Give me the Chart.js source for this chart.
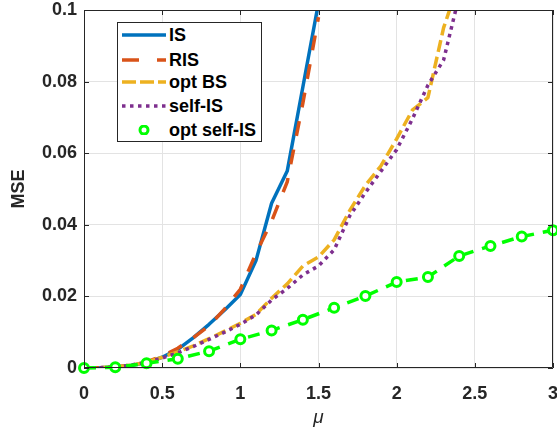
<!DOCTYPE html>
<html>
<head>
<meta charset="utf-8">
<script src="https://cdn.jsdelivr.net/npm/chart.js@4.4.1/dist/chart.umd.min.js"></script>
<style>
  html, body { margin: 0; padding: 0; background: #ffffff; }
  #wrap { position: relative; width: 557px; height: 429px; }
  canvas { display: block; }
  #legend {
    position: absolute; left: 117px; top: 22px; width: 145px; height: 120px;
    background: #ffffff; border: 1px solid #262626; box-sizing: border-box;
    font-family: "Liberation Sans", Arial, Helvetica, sans-serif; font-weight: bold;
    font-size: 18px; color: #000000;
  }
  .row { position: absolute; left: 0; height: 24px; width: 143px; display: flex; align-items: center; }
  .row svg { margin-left: 4px; flex: none; }
  .row span { margin-left: 3px; white-space: nowrap; line-height: 24px; }
</style>
</head>
<body>
<div id="wrap">
  <canvas id="c" width="557" height="429"></canvas>
  <div id="legend"></div>
</div>
<script>
// ---- data ----
const muFine = [0,0.1,0.2,0.3,0.4,0.5,0.6,0.7,0.8,0.9,1.0,1.1,1.2,1.3,1.4,1.5];
const muMid  = [0,0.1,0.2,0.3,0.4,0.5,0.6,0.7,0.8,0.9,1.0,1.1,1.2,1.3,1.4,1.5,1.6,1.7,1.8,1.9,2.0,2.1,2.2,2.3,2.4];
const muOpt  = [0,0.2,0.4,0.6,0.8,1.0,1.2,1.4,1.6,1.8,2.0,2.2,2.4,2.6,2.8,3.0];

const mseIS     = [0,0.0001,0.0003,0.0007,0.0015,0.003,0.0052,0.0085,0.0122,0.0162,0.0205,0.030,0.046,0.055,0.0785,0.102];
const mseRIS    = [0,0.0001,0.0003,0.0008,0.0017,0.0033,0.0055,0.0085,0.0118,0.0165,0.022,0.032,0.041,0.052,0.074,0.098];
const mseOptBS  = [0,0.0001,0.0003,0.0008,0.0016,0.003,0.0045,0.0062,0.0082,0.0103,0.0125,0.015,0.0195,0.0235,0.0285,0.031,0.0358,0.044,0.051,0.0565,0.064,0.072,0.0755,0.095,0.108];
const mseSelfIS = [0,0.0001,0.0003,0.0008,0.0016,0.0028,0.0042,0.006,0.008,0.010,0.0122,0.0148,0.019,0.0222,0.026,0.0285,0.033,0.0425,0.049,0.055,0.061,0.0695,0.079,0.086,0.104];
const mseOptSelf = [0,0.0002,0.0013,0.0026,0.0047,0.008,0.0105,0.0135,0.0168,0.0201,0.024,0.0254,0.0313,0.0341,0.0367,0.0385];

const xTickLabels = ['0','0.5','1','1.5','2','2.5','3'];
const yTickLabels = ['0','0.02','0.04','0.06','0.08','0.1'];
const seriesNames = ['IS','RIS','opt BS','self-IS','opt self-IS'];

// ---- build ----
function pts(xs, ys) { return xs.map((x, i) => ({ x: x, y: ys[i] })); }

const FONT = '"Liberation Sans", Arial, Helvetica, sans-serif';
const AXC = '#262626';

const styles = [
  { color: '#0072BD', dash: [],      w: 3.5 },
  { color: '#D95319', dash: [15, 14], w: 3.5 },
  { color: '#EDB120', dash: [12, 5],  w: 3.5 },
  { color: '#7E2F8E', dash: [3.5, 4.5], w: 3.5 },
  { color: '#00FF00', dash: [12, 9],  w: 3.5 }
];

const datasets = [
  { label: seriesNames[0], data: pts(muFine, mseIS), order: 5 },
  { label: seriesNames[1], data: pts(muFine, mseRIS), order: 4 },
  { label: seriesNames[2], data: pts(muMid, mseOptBS), order: 3 },
  { label: seriesNames[3], data: pts(muMid, mseSelfIS), order: 2 },
  { label: seriesNames[4], data: pts(muOpt, mseOptSelf), order: 1, clip: false }
].map((d, i) => Object.assign(d, {
  borderColor: styles[i].color,
  backgroundColor: styles[i].color,
  borderWidth: styles[i].w,
  borderDash: styles[i].dash,
  borderCapStyle: 'butt',
  borderJoinStyle: 'round',
  tension: 0,
  fill: false,
  pointRadius: i === 4 ? 4.5 : 0,
  pointBorderWidth: i === 4 ? 3 : 0,
  pointBackgroundColor: '#ffffff',
  pointBorderColor: styles[i].color,
  pointHoverRadius: 0
}));

const boxPlugin = {
  id: 'matlabBox',
  afterDraw(chart) {
    const { ctx, chartArea: a, scales } = chart;
    ctx.save();
    ctx.strokeStyle = AXC;
    ctx.lineWidth = 1;
    ctx.beginPath();
    ctx.rect(Math.round(a.left) + 0.5, Math.round(a.top) + 0.5,
             Math.round(a.right - a.left) - 1, Math.round(a.bottom - a.top) - 1);
    ctx.stroke();
    const L = 5;
    ctx.beginPath();
    scales.x.ticks.forEach(t => {
      const px = Math.round(scales.x.getPixelForValue(t.value)) + 0.5;
      ctx.moveTo(px, a.bottom); ctx.lineTo(px, a.bottom - L);
      ctx.moveTo(px, a.top); ctx.lineTo(px, a.top + L);
    });
    scales.y.ticks.forEach(t => {
      const py = Math.round(scales.y.getPixelForValue(t.value)) + 0.5;
      ctx.moveTo(a.left, py); ctx.lineTo(a.left + L, py);
      ctx.moveTo(a.right, py); ctx.lineTo(a.right - L, py);
    });
    ctx.stroke();
    ctx.restore();
  }
};

new Chart(document.getElementById('c'), {
  type: 'line',
  data: { datasets: datasets },
  options: {
    responsive: false,
    animation: false,
    events: [],
    layout: { autoPadding: false, padding: { top: 10, right: 4, left: 0, bottom: 0 } },
    plugins: { legend: { display: false }, tooltip: { enabled: false } },
    scales: {
      x: {
        type: 'linear', min: 0, max: 3,
        afterFit(s) { s.height = 61; s.paddingRight = 0; s.paddingLeft = 0; },
        ticks: {
          stepSize: 0.5, padding: 15, color: AXC,
          font: { family: FONT, size: 18, weight: 'bold' },
          maxRotation: 0,
          callback: (v, i) => xTickLabels[i]
        },
        grid: { color: '#e3e3e3', lineWidth: 1, drawTicks: false },
        border: { display: false },
        title: {
          display: true, text: 'μ', color: AXC,
          font: { family: FONT, size: 19, style: 'italic', weight: 'normal' },
          padding: { top: 0, bottom: 0 }
        }
      },
      y: {
        type: 'linear', min: 0, max: 0.1,
        afterFit(s) { s.width = 84; s.paddingTop = 0; s.paddingBottom = 0; },
        ticks: {
          stepSize: 0.02, padding: 7, color: AXC,
          font: { family: FONT, size: 18, weight: 'bold' },
          callback: (v, i) => yTickLabels[i]
        },
        grid: { color: '#e3e3e3', lineWidth: 1, drawTicks: false },
        border: { display: false },
        title: {
          display: true, text: 'MSE', color: AXC,
          font: { family: FONT, size: 18, weight: 'bold' },
          padding: { top: 8, bottom: 0 }
        }
      }
    }
  },
  plugins: [boxPlugin]
});

// ---- HTML legend ----
const legend = document.getElementById('legend');
const rowTops = [0, 25, 47, 71, 95];
seriesNames.forEach((name, i) => {
  const s = styles[i];
  const row = document.createElement('div');
  row.className = 'row';
  row.style.top = rowTops[i] + 'px';
  let sample;
  if (i === 4) {
    sample = '<circle cx="22" cy="5" r="4" fill="#ffffff" stroke="' + s.color + '" stroke-width="3"/>';
  } else {
    const dashes = [[], [17, 18], [14, 4], [3.5, 4.5]][i];
    sample = '<line x1="0" y1="5" x2="44" y2="5" stroke="' + s.color + '" stroke-width="' + s.w +
             '"' + (dashes.length ? ' stroke-dasharray="' + dashes.join(' ') + '"' : '') + '/>';
  }
  row.innerHTML = '<svg width="44" height="10">' + sample + '</svg><span>' + name + '</span>';
  legend.appendChild(row);
});
</script>
</body>
</html>
